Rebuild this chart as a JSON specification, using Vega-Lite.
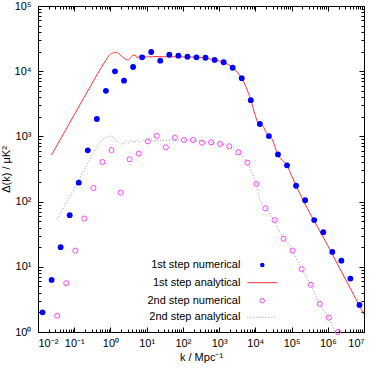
{
  "$schema": "https://vega.github.io/schema/vega-lite/v6.json",
  "autosize": {"type": "none"},
  "padding": {"left": 38, "top": 6, "right": 10, "bottom": 36},
  "width": 326,
  "height": 326,
  "background": "white",
  "config": {
    "view": {"stroke": null},
    "font": "Liberation Sans",
    "axis": {"grid": false, "domainColor": "black", "tickColor": "black", "labelColor": "black", "titleColor": "black", "labelFont": "Liberation Sans", "titleFont": "Liberation Sans", "labelFontSize": 11, "titleFontSize": 11, "titleFontWeight": "normal"},
    "legend": {"orient": "none", "title": null, "padding": 0, "labelAlign": "right", "labelFontSize": 11, "labelFont": "Liberation Sans", "labelColor": "black", "labelLimit": 300, "symbolOpacity": 1}
  },
  "datasets": {
    "ana1": [
      {"k": 0.0236, "d": 518.8}, {"k": 0.1, "d": 2138}, {"k": 0.3162, "d": 6607}, {"k": 0.6166, "d": 12450},
      {"k": 0.7943, "d": 15490}, {"k": 0.9441, "d": 17780}, {"k": 1.202, "d": 19050}, {"k": 1.445, "d": 19500},
      {"k": 1.738, "d": 18410}, {"k": 2.028, "d": 17100}, {"k": 2.512, "d": 15490}, {"k": 3.027, "d": 14860},
      {"k": 3.548, "d": 15850}, {"k": 4.169, "d": 17580}, {"k": 4.786, "d": 17580}, {"k": 5.623, "d": 15850},
      {"k": 6.31, "d": 17180}, {"k": 7.413, "d": 16220}, {"k": 8.511, "d": 17180}, {"k": 9.772, "d": 16410},
      {"k": 11.22, "d": 16980}, {"k": 13.18, "d": 16520}, {"k": 15.85, "d": 16790}, {"k": 31.62, "d": 16670},
      {"k": 100, "d": 16600}, {"k": 316.2, "d": 16220}, {"k": 749.9, "d": 14860}, {"k": 1334, "d": 13680},
      {"k": 2371, "d": 11320}, {"k": 4217, "d": 7780}, {"k": 5623, "d": 5623}, {"k": 7499, "d": 3614},
      {"k": 10000, "d": 2089}, {"k": 12020, "d": 1585}, {"k": 14130, "d": 1514}, {"k": 16600, "d": 1413},
      {"k": 19950, "d": 1148}, {"k": 23710, "d": 1014}, {"k": 28180, "d": 933}, {"k": 33110, "d": 758.6},
      {"k": 39810, "d": 549.5}, {"k": 50120, "d": 457}, {"k": 60260, "d": 416.9}, {"k": 74990, "d": 360.6},
      {"k": 100000, "d": 251.2}, {"k": 133400, "d": 175.4}, {"k": 1000000, "d": 21.13}, {"k": 10000000, "d": 1.862}
    ],
    "ana2": [
      {"k": 0.03311, "d": 53.46}, {"k": 0.1, "d": 158.5}, {"k": 0.2649, "d": 434.5}, {"k": 0.5012, "d": 794.3},
      {"k": 0.631, "d": 901.6}, {"k": 0.7943, "d": 977.2}, {"k": 1.052, "d": 1014}, {"k": 1.318, "d": 912},
      {"k": 1.585, "d": 831.8}, {"k": 2.203, "d": 756.8}, {"k": 2.63, "d": 851.1}, {"k": 3.162, "d": 794.3},
      {"k": 3.802, "d": 871}, {"k": 4.571, "d": 812.8}, {"k": 5.495, "d": 881}, {"k": 6.607, "d": 831.8},
      {"k": 7.943, "d": 881}, {"k": 9.55, "d": 851.1}, {"k": 11.48, "d": 881}, {"k": 15.85, "d": 867},
      {"k": 39.81, "d": 875}, {"k": 100, "d": 881}, {"k": 199.5, "d": 871}, {"k": 335, "d": 831.8},
      {"k": 592.9, "d": 803.5}, {"k": 1052, "d": 763.8}, {"k": 1862, "d": 704.7}, {"k": 3304, "d": 570.2},
      {"k": 6012, "d": 395.4}, {"k": 7943, "d": 281.8}, {"k": 10670, "d": 186.2}, {"k": 12590, "d": 120.2},
      {"k": 15140, "d": 93.33}, {"k": 18880, "d": 83.18}, {"k": 22390, "d": 72.44}, {"k": 28180, "d": 57.54},
      {"k": 33500, "d": 52.24}, {"k": 44670, "d": 35.48}, {"k": 59290, "d": 27.54}, {"k": 79430, "d": 22.91},
      {"k": 105200, "d": 17.66}, {"k": 190100, "d": 9.162}, {"k": 337300, "d": 5.26}, {"k": 597000, "d": 2.685},
      {"k": 1059000, "d": 1.656}, {"k": 1585000, "d": 1.0}
    ],
    "num1": [
      {"k": 0.01334, "d": 2.0}, {"k": 0.02371, "d": 6.3}, {"k": 0.04217, "d": 20}, {"k": 0.07499, "d": 62},
      {"k": 0.1334, "d": 195}, {"k": 0.2371, "d": 612}, {"k": 0.4217, "d": 1850}, {"k": 0.7499, "d": 5000},
      {"k": 1.334, "d": 9960}, {"k": 2.371, "d": 7160}, {"k": 4.217, "d": 11600}, {"k": 7.499, "d": 16300},
      {"k": 13.34, "d": 19700}, {"k": 23.71, "d": 14500}, {"k": 42.17, "d": 17900}, {"k": 74.99, "d": 17300},
      {"k": 133.4, "d": 16700}, {"k": 237.1, "d": 16300}, {"k": 421.7, "d": 16100}, {"k": 749.9, "d": 14900},
      {"k": 1334, "d": 13700}, {"k": 2371, "d": 11300}, {"k": 4217, "d": 7800}, {"k": 7499, "d": 3600},
      {"k": 13340, "d": 1550}, {"k": 23710, "d": 1010}, {"k": 42170, "d": 530}, {"k": 74990, "d": 360},
      {"k": 133400, "d": 175}, {"k": 237100, "d": 105}, {"k": 421700, "d": 52}, {"k": 749900, "d": 34},
      {"k": 1334000, "d": 16.9}, {"k": 2371000, "d": 12.4}, {"k": 4217000, "d": 6.6}, {"k": 7499000, "d": 2.6}
    ],
    "num2": [
      {"k": 0.03388, "d": 1.78}, {"k": 0.06026, "d": 5.6}, {"k": 0.1072, "d": 17.7}, {"k": 0.1905, "d": 55},
      {"k": 0.3388, "d": 162}, {"k": 0.6026, "d": 405}, {"k": 1.072, "d": 617}, {"k": 1.905, "d": 137},
      {"k": 3.388, "d": 445}, {"k": 6.026, "d": 543}, {"k": 10.72, "d": 840}, {"k": 19.05, "d": 1020},
      {"k": 33.88, "d": 680}, {"k": 60.26, "d": 955}, {"k": 107.2, "d": 880}, {"k": 190.5, "d": 880},
      {"k": 338.8, "d": 800}, {"k": 602.6, "d": 810}, {"k": 1072, "d": 765}, {"k": 1905, "d": 705},
      {"k": 3388, "d": 570}, {"k": 6026, "d": 395}, {"k": 10720, "d": 186}, {"k": 19050, "d": 79},
      {"k": 33880, "d": 52}, {"k": 60260, "d": 27}, {"k": 107200, "d": 17.7}, {"k": 190500, "d": 9.2},
      {"k": 338800, "d": 5.3}, {"k": 602600, "d": 2.7}, {"k": 1072000, "d": 1.66}, {"k": 1905000, "d": 1.0}
    ]
  },
  "resolve": {"scale": {"color": "independent"}, "axis": {"x": "independent", "y": "independent"}},
  "layer": [
    {
      "data": {"name": "ana1"},
      "mark": {"type": "line", "strokeWidth": 1, "clip": true, "interpolate": "monotone"},
      "encoding": {
        "x": {"field": "k", "type": "quantitative", "scale": {"type": "log", "domain": [0.01, 10000000], "nice": false},
          "axis": {"orient": "top", "title": null, "labels": false, "tickSize": -5, "values": [0.01, 0.1, 1, 10, 100, 1000, 10000, 100000, 1000000, 10000000]}},
        "y": {"field": "d", "type": "quantitative", "scale": {"type": "log", "domain": [1, 100000], "nice": false},
          "axis": {"orient": "right", "title": null, "labels": false, "tickSize": -5, "values": [1, 10, 100, 1000, 10000, 100000]}},
        "color": {"datum": "1st step analytical", "type": "nominal", "scale": {"range": ["#ff3030"]},
          "legend": {"legendX": 208.8, "legendY": 261.2, "symbolType": "stroke", "symbolSize": 900, "symbolStrokeWidth": 1, "labelOffset": -37.4}}
      }
    },
    {
      "data": {"name": "ana2"},
      "mark": {"type": "line", "strokeWidth": 1, "strokeDash": [1, 2], "clip": true, "interpolate": "monotone"},
      "encoding": {
        "x": {"field": "k", "type": "quantitative", "scale": {"type": "log", "domain": [0.01, 10000000], "nice": false},
          "axis": {"orient": "top", "title": null, "labels": false, "domain": false, "tickSize": -3,
            "values": [0.02,0.03,0.04,0.05,0.06,0.07,0.08,0.09,0.2,0.3,0.4,0.5,0.6,0.7,0.8,0.9,2,3,4,5,6,7,8,9,20,30,40,50,60,70,80,90,200,300,400,500,600,700,800,900,2000,3000,4000,5000,6000,7000,8000,9000,20000,30000,40000,50000,60000,70000,80000,90000,200000,300000,400000,500000,600000,700000,800000,900000,2000000,3000000,4000000,5000000,6000000,7000000,8000000,9000000]}},
        "y": {"field": "d", "type": "quantitative", "scale": {"type": "log", "domain": [1, 100000], "nice": false},
          "axis": {"orient": "right", "title": null, "labels": false, "domain": false, "tickSize": -3,
            "values": [2,3,4,5,6,7,8,9,20,30,40,50,60,70,80,90,200,300,400,500,600,700,800,900,2000,3000,4000,5000,6000,7000,8000,9000,20000,30000,40000,50000,60000,70000,80000,90000]}},
        "color": {"datum": "2nd step analytical", "type": "nominal", "scale": {"range": ["#999999"]},
          "legend": {"legendX": 208.8, "legendY": 295.8, "symbolType": "stroke", "symbolSize": 900, "symbolStrokeWidth": 1, "symbolDash": [1, 2], "labelOffset": -37.4}}
      }
    },
    {
      "data": {"name": "num2"},
      "mark": {"type": "point", "shape": "circle", "filled": false, "size": 26, "strokeWidth": 1, "opacity": 1},
      "encoding": {
        "x": {"field": "k", "type": "quantitative", "scale": {"type": "log", "domain": [0.01, 10000000], "nice": false},
          "axis": {"orient": "bottom", "title": null, "labels": false, "domain": false, "tickSize": -3,
            "values": [0.02,0.03,0.04,0.05,0.06,0.07,0.08,0.09,0.2,0.3,0.4,0.5,0.6,0.7,0.8,0.9,2,3,4,5,6,7,8,9,20,30,40,50,60,70,80,90,200,300,400,500,600,700,800,900,2000,3000,4000,5000,6000,7000,8000,9000,20000,30000,40000,50000,60000,70000,80000,90000,200000,300000,400000,500000,600000,700000,800000,900000,2000000,3000000,4000000,5000000,6000000,7000000,8000000,9000000]}},
        "y": {"field": "d", "type": "quantitative", "scale": {"type": "log", "domain": [1, 100000], "nice": false},
          "axis": {"orient": "left", "title": null, "labels": false, "domain": false, "tickSize": -3,
            "values": [2,3,4,5,6,7,8,9,20,30,40,50,60,70,80,90,200,300,400,500,600,700,800,900,2000,3000,4000,5000,6000,7000,8000,9000,20000,30000,40000,50000,60000,70000,80000,90000]}},
        "color": {"datum": "2nd step numerical", "type": "nominal", "scale": {"range": ["#ff44ff"]},
          "legend": {"legendX": 218.8, "legendY": 289.2, "symbolType": "circle", "symbolSize": 20, "symbolStrokeWidth": 1, "symbolFillColor": "transparent", "labelOffset": -27.4}}
      }
    },
    {
      "data": {"name": "num1"},
      "mark": {"type": "point", "shape": "circle", "filled": true, "size": 34, "opacity": 1},
      "encoding": {
        "x": {"field": "k", "type": "quantitative", "scale": {"type": "log", "domain": [0.01, 10000000], "nice": false},
          "axis": {"orient": "bottom", "title": "k / Mpc⁻¹", "titlePadding": 3, "tickSize": -5, "labelPadding": 10,
            "values": [0.01, 0.1, 1, 10, 100, 1000, 10000, 100000, 1000000, 10000000],
            "labelExpr": "'10' + ['⁻²','⁻¹','⁰','¹','²','³','⁴','⁵','⁶','⁷'][round(log(datum.value)/LN10)+2]"}},
        "y": {"field": "d", "type": "quantitative", "scale": {"type": "log", "domain": [1, 100000], "nice": false},
          "axis": {"orient": "left", "title": "Δ(k) / μK²", "titlePadding": 3, "tickSize": -5, "labelPadding": 12,
            "values": [1, 10, 100, 1000, 10000, 100000],
            "labelExpr": "'10' + ['⁻²','⁻¹','⁰','¹','²','³','⁴','⁵','⁶','⁷'][round(log(datum.value)/LN10)+2]"}},
        "color": {"datum": "1st step numerical", "type": "nominal", "scale": {"range": ["#0000ff"]},
          "legend": {"legendX": 218.8, "legendY": 253.5, "symbolType": "circle", "symbolSize": 20, "labelOffset": -27.4}}
      }
    }
  ]
}
